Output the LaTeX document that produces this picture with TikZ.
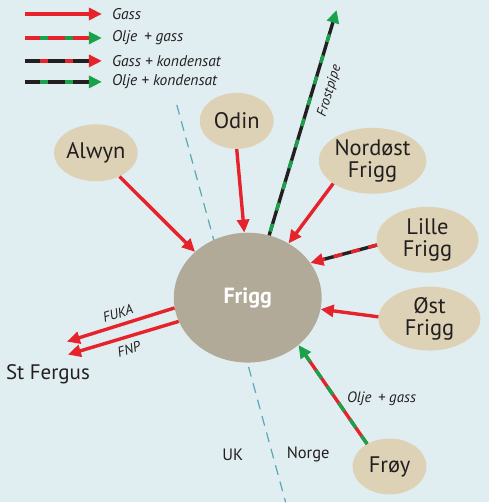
\documentclass[tikz,border=0pt]{standalone}
\usepackage{fontspec}
\setmainfont{PT Sans}
\usetikzlibrary{shapes.geometric,arrows.meta}
\definecolor{bgc}{HTML}{E1EEF1}
\definecolor{beige}{HTML}{DDD2B6}
\definecolor{friggc}{HTML}{B2AA98}
\definecolor{pred}{HTML}{E6222B}
\definecolor{pgreen}{HTML}{1AA24B}
\definecolor{pblack}{HTML}{231F20}
\definecolor{borderc}{HTML}{5AA7B6}
\definecolor{txt}{HTML}{231F20}
\begin{document}
\begin{tikzpicture}[x=1pt,y=-1pt,
  field/.style={ellipse, fill=beige, inner sep=0pt, align=center, text=txt,
    font=\fontsize{22.5}{22}\selectfont},
  pipe/.style={line width=3.4pt},
  tipR/.style={-{Triangle[length=13pt,width=12pt,color=pred]}},
  tipG/.style={-{Triangle[length=13pt,width=12pt,color=pgreen]}},
  overdash/.style={line width=3.4pt, shorten >=13pt},
  lbl/.style={font=\fontsize{14}{15}\selectfont\itshape, text=txt, inner sep=0pt},
  legtxt/.style={anchor=west, font=\fontsize{15.5}{16}\selectfont\itshape, text=txt, inner sep=0pt},
  plain/.style={text=txt, inner sep=0pt}
]
\fill[bgc] (0,0) rectangle (490,503);
% border line
\coordinate (b1) at (177,105);
\coordinate (b2) at (286,503);
\draw[borderc, line width=1.2pt, dash pattern=on 10pt off 7pt] (b1) -- (b2);

% nodes
\node[ellipse, fill=friggc, inner sep=0pt, minimum width=148pt, minimum height=130pt,
  text=white, font=\fontsize{22}{23}\selectfont\bfseries] (frigg) at (248,298) {Frigg};
\node[field, minimum width=76pt, minimum height=57pt] (alwyn) at (96,153) {Alwyn};
\node[field, minimum width=74pt, minimum height=56pt] (odin) at (237,121) {Odin};
\node[field, minimum width=102pt, minimum height=66pt] (nord) at (373,161) {Nordøst\\Frigg};
\node[field, minimum width=102pt, minimum height=66pt] (lille) at (428,240) {Lille\\Frigg};
\node[field, minimum width=102pt, minimum height=64pt] (ost) at (430,319) {Øst\\Frigg};
\node[field, minimum width=74pt, minimum height=56pt] (froy) at (390,467) {Frøy};

% pipes
\draw[pipe, pred, tipR] (alwyn.-45) -- (frigg.139);
\draw[pipe, pred, tipR] (odin.-90) -- (frigg.93);
\draw[pipe, pred, tipR] (nord.210) -- (frigg.53);
\draw[pipe, pblack, tipR] (lille.186) -- (frigg.29);
\draw[overdash, pred, dash pattern=on 9pt off 9pt] (lille.186) -- (frigg.29);
\draw[pipe, pred, tipR] (ost.178) -- (frigg.-9.5);
\draw[pipe, pred, tipG] (froy.135) -- (frigg.-43);
\draw[overdash, pgreen, dash pattern=on 10pt off 10pt] (froy.135) -- (frigg.-43);
\coordinate (frost) at (337,10);
\draw[pipe, pblack, tipG] (frigg.71) -- (frost);
\draw[overdash, pgreen, dash pattern=on 8pt off 14pt, dash phase=-4pt] (frigg.71) -- (frost);
\coordinate (fuka) at (67,342);
\coordinate (fnp) at (68,355);
\draw[pipe, pred, tipR] (frigg.188) -- (fuka);
\draw[pipe, pred, tipR] (frigg.199) -- (fnp);

% labels
\node[lbl, rotate=73] (lfrost) at (330,91) {Frostpipe};
\node[lbl, rotate=17.5] (lfuka) at (118,314) {FUKA};
\node[lbl, rotate=17.5] (lfnp) at (129,350) {FNP};
\node[lbl, font=\fontsize{15}{16}\selectfont\itshape] (lolje) at (382,399) {Olje\, + gass};
\node[plain, font=\fontsize{21}{22}\selectfont] (stf) at (48,375) {St Fergus};
\node[plain, font=\fontsize{16.5}{17}\selectfont] (uk) at (233,455) {UK};
\node[plain, font=\fontsize{16.5}{17}\selectfont] (norge) at (308.5,455) {Norge};

% legend
\coordinate (l1s) at (25,14);  \coordinate (l1e) at (102,14);
\coordinate (l2s) at (25,38);  \coordinate (l2e) at (102,38);
\coordinate (l3s) at (25,61);  \coordinate (l3e) at (102,61);
\coordinate (l4s) at (25,82);  \coordinate (l4e) at (102,82);
\draw[pipe, pred, tipR] (l1s) -- (l1e);
\draw[pipe, pred, tipG] (l2s) -- (l2e);
\draw[overdash, pgreen, dash pattern=on 8pt off 17pt, dash phase=-15pt] (l2s) -- (l2e);
\draw[pipe, pblack, tipR] (l3s) -- (l3e);
\draw[overdash, pred, dash pattern=on 8pt off 17pt, dash phase=-15pt] (l3s) -- (l3e);
\draw[pipe, pblack, tipG] (l4s) -- (l4e);
\draw[overdash, pgreen, dash pattern=on 8pt off 17pt, dash phase=-15pt] (l4s) -- (l4e);
\node[legtxt] (t1) at (112,14) {Gass};
\node[legtxt] (t2) at (112,38) {Olje\, + gass};
\node[legtxt] (t3) at (112,61) {Gass + kondensat};
\node[legtxt] (t4) at (112,82) {Olje + kondensat};
\end{tikzpicture}
\end{document}
